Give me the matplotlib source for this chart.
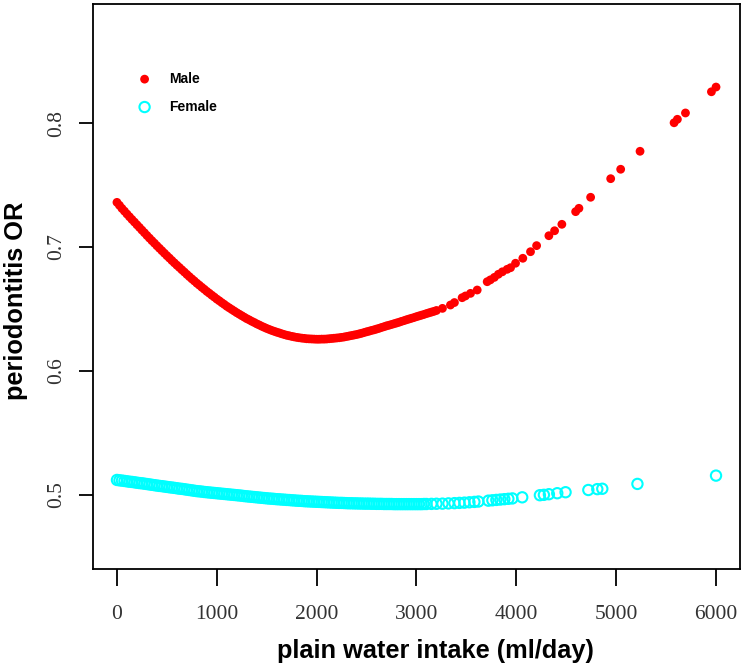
import matplotlib
matplotlib.use("Agg")
import matplotlib.pyplot as plt

# predicted OR for males: dense part (every 25 ml up to 3200) then the sparse high-intake points
male_x = list(range(0, 3201, 25)) + [
    3260, 3340, 3380, 3457, 3490, 3541, 3608, 3708, 3740, 3780, 3820, 3860,
    3908, 3942, 3992, 4065, 4142, 4203, 4326, 4383, 4456, 4594, 4627, 4744,
    4945, 5045, 5239, 5580, 5613, 5694, 5954, 6000]
male_y = [
    0.7360, 0.7336, 0.7311, 0.7289, 0.7266, 0.7244, 0.7222, 0.7201,
    0.7179, 0.7158, 0.7136, 0.7115, 0.7093, 0.7072, 0.7051, 0.7031,
    0.7010, 0.6990, 0.6970, 0.6950, 0.6930, 0.6911, 0.6891, 0.6872,
    0.6853, 0.6835, 0.6816, 0.6798, 0.6779, 0.6761, 0.6743, 0.6726,
    0.6708, 0.6692, 0.6675, 0.6659, 0.6642, 0.6627, 0.6611, 0.6596,
    0.6580, 0.6566, 0.6551, 0.6537, 0.6522, 0.6509, 0.6496, 0.6483,
    0.6470, 0.6458, 0.6446, 0.6434, 0.6422, 0.6412, 0.6401, 0.6391,
    0.6380, 0.6371, 0.6361, 0.6352, 0.6343, 0.6335, 0.6327, 0.6320,
    0.6313, 0.6307, 0.6300, 0.6294, 0.6288, 0.6284, 0.6279, 0.6275,
    0.6271, 0.6268, 0.6265, 0.6263, 0.6260, 0.6259, 0.6258, 0.6257,
    0.6256, 0.6256, 0.6257, 0.6257, 0.6258, 0.6260, 0.6262, 0.6264,
    0.6266, 0.6268, 0.6271, 0.6274, 0.6278, 0.6282, 0.6286, 0.6290,
    0.6294, 0.6299, 0.6304, 0.6310, 0.6316, 0.6321, 0.6327, 0.6332,
    0.6338, 0.6344, 0.6351, 0.6357, 0.6364, 0.6369, 0.6375, 0.6381,
    0.6387, 0.6393, 0.6400, 0.6406, 0.6413, 0.6419, 0.6425, 0.6431,
    0.6438, 0.6444, 0.6450, 0.6456, 0.6463, 0.6469, 0.6475, 0.6481,
    0.6488,
    0.6505, 0.6532, 0.6552, 0.6591, 0.6605, 0.6626, 0.6653, 0.6720, 0.6735,
    0.6755, 0.6780, 0.6800, 0.6820, 0.6833, 0.6869, 0.6909, 0.6962, 0.7011,
    0.7091, 0.7131, 0.7183, 0.7285, 0.7312, 0.7401, 0.7551, 0.7627, 0.7772,
    0.8002, 0.8030, 0.8081, 0.8252, 0.8290]

# predicted OR for females
female_x = list(range(0, 3101, 25)) + [
    3150, 3200, 3260, 3320, 3380, 3430, 3480, 3530, 3580, 3620, 3720, 3760,
    3800, 3840, 3880, 3920, 3960, 4059, 4236, 4276, 4326, 4410, 4493, 4721,
    4811, 4861, 5213, 6000]
female_y = [
    0.5121, 0.5118, 0.5116, 0.5113, 0.5110, 0.5107, 0.5105, 0.5102,
    0.5099, 0.5096, 0.5094, 0.5091, 0.5088, 0.5085, 0.5082, 0.5079,
    0.5076, 0.5073, 0.5071, 0.5068, 0.5065, 0.5062, 0.5060, 0.5057,
    0.5054, 0.5051, 0.5049, 0.5046, 0.5043, 0.5040, 0.5037, 0.5034,
    0.5031, 0.5029, 0.5027, 0.5024, 0.5022, 0.5020, 0.5018, 0.5016,
    0.5014, 0.5012, 0.5010, 0.5008, 0.5006, 0.5004, 0.5002, 0.5000,
    0.4998, 0.4996, 0.4994, 0.4991, 0.4989, 0.4987, 0.4985, 0.4983,
    0.4981, 0.4979, 0.4977, 0.4975, 0.4973, 0.4971, 0.4970, 0.4968,
    0.4966, 0.4965, 0.4963, 0.4962, 0.4960, 0.4959, 0.4957, 0.4956,
    0.4954, 0.4953, 0.4952, 0.4950, 0.4949, 0.4948, 0.4947, 0.4946,
    0.4945, 0.4944, 0.4943, 0.4942, 0.4941, 0.4940, 0.4939, 0.4938,
    0.4937, 0.4936, 0.4936, 0.4935, 0.4934, 0.4933, 0.4933, 0.4932,
    0.4932, 0.4931, 0.4931, 0.4930, 0.4930, 0.4930, 0.4929, 0.4929,
    0.4928, 0.4928, 0.4928, 0.4927, 0.4927, 0.4927, 0.4927, 0.4926,
    0.4926, 0.4926, 0.4926, 0.4926, 0.4926, 0.4926, 0.4926, 0.4926,
    0.4926, 0.4926, 0.4926, 0.4927, 0.4927,
    0.4928, 0.4929, 0.4930, 0.4932, 0.4934, 0.4936, 0.4938, 0.4941, 0.4944,
    0.4947, 0.4954, 0.4957, 0.4960, 0.4963, 0.4966, 0.4969, 0.4972, 0.4981,
    0.4998, 0.5001, 0.5006, 0.5014, 0.5022, 0.5040, 0.5047, 0.5050, 0.5089,
    0.5156]

x_ticks = [0, 1000, 2000, 3000, 4000, 5000, 6000]
y_ticks = [0.5, 0.6, 0.7, 0.8]

fig = plt.figure(figsize=(7.44, 6.65), dpi=100)
ax = fig.add_axes([0.125, 0.1444, 0.8696, 0.8496])

male = ax.scatter(male_x, male_y, s=40, color="#ff0000", edgecolors="none",
                  label="Male", zorder=3)
female = ax.scatter(female_x, female_y, s=55, facecolors="none",
                    edgecolors="#00ffff", linewidths=1.5, label="Female", zorder=2)

ax.set_xlim(-240, 6240)
ax.set_ylim(0.4403, 0.896)
ax.set_xticks(x_ticks)
ax.set_yticks(y_ticks)
ax.set_xticklabels([str(v) for v in x_ticks])
ax.set_yticklabels([f"{v:.1f}" for v in y_ticks], rotation=90, va="center")

for lab in ax.get_xticklabels() + ax.get_yticklabels():
    lab.set_fontfamily("Liberation Serif")
    lab.set_fontsize(15.5)
    lab.set_color("#333333")

ax.tick_params(axis="x", length=12, width=1.3, pad=14)
ax.tick_params(axis="y", length=10, width=1.3, pad=9)
for sp in ax.spines.values():
    sp.set_linewidth(1.3)

ax.set_xlabel("plain water intake (ml/day)", fontsize=18.3, fontweight="bold",
              family="Liberation Sans", va="center")
ax.xaxis.set_label_coords(0.530, -0.146)
ax.set_ylabel("periodontitis OR", fontsize=18.3, fontweight="bold",
              family="Liberation Sans", va="center")
ax.yaxis.set_label_coords(-0.119, 0.474)

ax.legend(handles=[male, female], loc="upper left", bbox_to_anchor=(0.069, 0.880),
          frameon=False, scatterpoints=1, handlelength=1.0, handletextpad=1.3,
          labelspacing=1.0, borderpad=0, borderaxespad=0,
          prop=dict(family="Liberation Sans", weight="bold", size=10))

fig.savefig("out.png", dpi=100)
